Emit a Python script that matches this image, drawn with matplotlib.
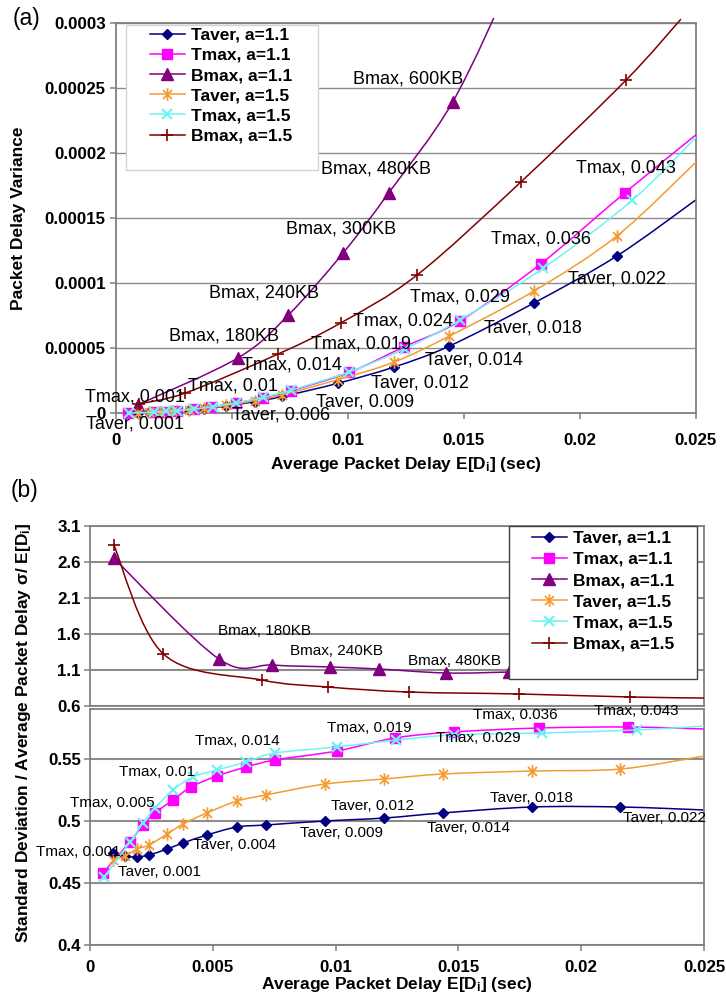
import numpy as np
import matplotlib
matplotlib.use("Agg")
import matplotlib.pyplot as plt
from matplotlib.path import Path
from matplotlib.patches import PathPatch, Rectangle
from matplotlib.lines import Line2D

plt.rcParams['font.family'] = ['Liberation Sans', 'DejaVu Sans']
plt.rcParams['mathtext.fontset'] = 'custom'
plt.rcParams['mathtext.rm'] = 'Liberation Sans:bold'
plt.rcParams['mathtext.it'] = 'Liberation Sans:bold'
plt.rcParams['mathtext.bf'] = 'Liberation Sans:bold'

# ---------------- data ----------------
series_names = ['Taver, a=1.1', 'Tmax, a=1.1', 'Bmax, a=1.1',
                'Taver, a=1.5', 'Tmax, a=1.5', 'Bmax, a=1.5']

# average packet delay (x) for each configuration
taver_x = [0.00094, 0.00143, 0.00191, 0.0024, 0.00314, 0.00379, 0.00476,
           0.00599, 0.00717, 0.00957, 0.01199, 0.01437, 0.01801, 0.02159]
tmax11_x = [0.00053, 0.00162, 0.00216, 0.00265, 0.00338, 0.00411, 0.00517,
            0.00635, 0.00753, 0.01006, 0.0124, 0.01482, 0.0183, 0.02192]
tmax15_x = [0.00057, 0.00163, 0.00216, 0.00265, 0.00338, 0.00419, 0.00517,
            0.00635, 0.00753, 0.01006, 0.01246, 0.01482, 0.01842, 0.02226]
bmax11_x = [0.00096, 0.00525, 0.00743, 0.00979, 0.01175, 0.01451, 0.01706]
bmax15_x = [0.00097, 0.00299, 0.00699, 0.00968, 0.01298, 0.01745, 0.02199]

# panel (a): packet delay variance
taver11_var = [2.0e-7, 4.5e-7, 8.1e-7, 1.3e-6, 2.3e-6, 3.3e-6, 5.4e-6,
               8.8e-6, 1.27e-5, 2.29e-5, 3.54e-5, 5.15e-5, 8.46e-5, 1.208e-4]
tmax11_var = [6e-8, 6e-7, 1.15e-6, 1.8e-6, 3.05e-6, 4.7e-6, 7.7e-6,
              1.19e-5, 1.71e-5, 3.13e-5, 5.08e-5, 7.08e-5, 1.146e-4, 1.692e-4]
bmax11_var = [6.5e-6, 4.23e-5, 7.54e-5, 1.231e-4, 1.692e-4, 2.392e-4, 3.34e-4]
taver15_var = [1.9e-7, 4.6e-7, 8.3e-7, 1.3e-6, 2.4e-6, 3.6e-6, 5.8e-6,
               9.6e-6, 1.4e-5, 2.57e-5, 3.92e-5, 5.92e-5, 9.38e-5, 1.362e-4]
tmax15_var = [7e-8, 6.2e-7, 1.16e-6, 1.83e-6, 3.15e-6, 5.0e-6, 7.8e-6,
              1.21e-5, 1.75e-5, 3.17e-5, 4.96e-5, 7.15e-5, 1.115e-4, 1.638e-4]
bmax15_var = [7e-6, 1.54e-5, 4.54e-5, 6.92e-5, 1.062e-4, 1.777e-4, 2.562e-4]
# where the lines leave the plot frame in panel (a)
var_exit = {'Taver, a=1.1': (0.025, 1.64e-4), 'Tmax, a=1.1': (0.025, 2.14e-4),
            'Bmax, a=1.1': None, 'Taver, a=1.5': (0.025, 1.93e-4),
            'Tmax, a=1.5': (0.025, 2.12e-4), 'Bmax, a=1.5': (0.02435, 3.03e-4)}

# panel (b): standard deviation / average packet delay
taver11_ratio = [0.4742, 0.4715, 0.471, 0.4726, 0.4774, 0.4823, 0.4887,
                 0.4952, 0.4968, 0.5, 0.5024, 0.5065, 0.5113, 0.5113]
tmax11_ratio = [0.4581, 0.4831, 0.4968, 0.5065, 0.5169, 0.5274, 0.5363,
                0.5435, 0.5492, 0.5565, 0.5669, 0.5718, 0.575, 0.5758]
bmax11_ratio = [2.656, 1.253, 1.169, 1.142, 1.114, 1.058, 1.072]
taver15_ratio = [0.4685, 0.4718, 0.4774, 0.4806, 0.4895, 0.4976, 0.5065,
                 0.5161, 0.521, 0.5298, 0.5339, 0.5379, 0.5403, 0.5419]
tmax15_ratio = [0.4548, 0.4831, 0.4984, 0.5105, 0.525, 0.5355, 0.5411,
                0.5476, 0.5548, 0.5597, 0.5653, 0.5694, 0.571, 0.5734]
bmax15_ratio = [2.836, 1.322, 0.961, 0.864, 0.794, 0.767, 0.725]
ratio_exit = {'Taver, a=1.1': (0.025, 0.5089), 'Tmax, a=1.1': (0.025, 0.5742),
              'Bmax, a=1.1': None, 'Taver, a=1.5': (0.025, 0.5524),
              'Tmax, a=1.5': (0.025, 0.5766), 'Bmax, a=1.5': (0.025, 0.711)}

x_ticks = [0, 0.005, 0.01, 0.015, 0.02, 0.025]
x_ticklabels = ['0', '0.005', '0.01', '0.015', '0.02', '0.025']
a_yticks = [0, 0.00005, 0.0001, 0.00015, 0.0002, 0.00025, 0.0003]
a_yticklabels = ['0', '0.00005', '0.0001', '0.00015', '0.0002', '0.00025', '0.0003']
bt_yticks = [0.6, 1.1, 1.6, 2.1, 2.6, 3.1]
bt_yticklabels = ['0.6', '1.1', '1.6', '2.1', '2.6', '3.1']
bb_yticks = [0.4, 0.45, 0.5, 0.55]
bb_yticklabels = ['0.4', '0.45', '0.5', '0.55']

# data labels: (text, x, y) in data units
a_labels = [
    ('Bmax, 600KB', 0.012586, 2.569e-4), ('Bmax, 480KB', 0.011207, 1.877e-4),
    ('Bmax, 300KB', 0.009698, 1.415e-4), ('Bmax, 240KB', 0.006379, 9.23e-5),
    ('Bmax, 180KB', 0.004655, 5.92e-5), ('Tmax, 0.001', 0.000819, 1.23e-5),
    ('Taver, 0.001', 0.000819, -8.5e-6), ('Tmax, 0.01', 0.005043, 2.08e-5),
    ('Tmax, 0.014', 0.007586, 3.69e-5), ('Taver, 0.006', 0.007112, -1.5e-6),
    ('Tmax, 0.019', 0.01056, 5.31e-5), ('Tmax, 0.024', 0.01237, 7.08e-5),
    ('Tmax, 0.029', 0.014828, 8.92e-5), ('Tmax, 0.036', 0.018319, 1.338e-4),
    ('Tmax, 0.043', 0.021983, 1.885e-4), ('Taver, 0.022', 0.021595, 1.031e-4),
    ('Taver, 0.018', 0.017974, 6.54e-5), ('Taver, 0.014', 0.015431, 4.08e-5),
    ('Taver, 0.012', 0.013103, 2.31e-5), ('Taver, 0.009', 0.010733, 8.5e-6),
]
bt_labels = [('Bmax, 180KB', 0.007085, 1.642), ('Bmax, 240KB', 0.01002, 1.364),
             ('Bmax, 480KB', 0.01486, 1.225)]
bb_labels = [
    ('Tmax, 0.001', -0.000489, 0.475), ('Taver, 0.001', 0.00285, 0.4589),
    ('Taver, 0.004', 0.0059, 0.4806), ('Tmax, 0.005', 0.000916, 0.5145),
    ('Tmax, 0.01', 0.00272, 0.5395), ('Tmax, 0.014', 0.00601, 0.5645),
    ('Tmax, 0.019', 0.01138, 0.575), ('Tmax, 0.029', 0.0158, 0.5669),
    ('Tmax, 0.036', 0.01733, 0.5855), ('Tmax, 0.043', 0.02225, 0.5887),
    ('Taver, 0.009', 0.01024, 0.4903), ('Taver, 0.012', 0.01152, 0.5121),
    ('Taver, 0.014', 0.01543, 0.4944), ('Taver, 0.018', 0.01796, 0.5185),
    ('Taver, 0.022', 0.02339, 0.5024),
]

# ---------------- styles ----------------
ast = Path([(0, -1), (0, 1), (-0.72, -0.72), (0.72, 0.72), (-0.72, 0.72), (0.72, -0.72)],
           [Path.MOVETO, Path.LINETO, Path.MOVETO, Path.LINETO, Path.MOVETO, Path.LINETO])
styles = {
    'Taver, a=1.1': dict(color='#000080', marker='D', markersize=5.2),
    'Tmax, a=1.1': dict(color='#FF00FF', marker='s', markersize=7),
    'Bmax, a=1.1': dict(color='#800080', marker='^', markersize=8),
    'Taver, a=1.5': dict(color='#F39C33', marker=ast, markersize=9,
                         markerfacecolor='none', markeredgewidth=1.3),
    'Tmax, a=1.5': dict(color='#6FF3F3', marker='x', markersize=7, markeredgewidth=1.6),
    'Bmax, a=1.5': dict(color='#800000', marker='+', markersize=9, markeredgewidth=1.2),
}

x_of = {'Taver, a=1.1': taver_x, 'Tmax, a=1.1': tmax11_x, 'Bmax, a=1.1': bmax11_x,
        'Taver, a=1.5': taver_x, 'Tmax, a=1.5': tmax15_x, 'Bmax, a=1.5': bmax15_x}
var_of = {'Taver, a=1.1': taver11_var, 'Tmax, a=1.1': tmax11_var, 'Bmax, a=1.1': bmax11_var,
          'Taver, a=1.5': taver15_var, 'Tmax, a=1.5': tmax15_var, 'Bmax, a=1.5': bmax15_var}
ratio_of = {'Taver, a=1.1': taver11_ratio, 'Tmax, a=1.1': tmax11_ratio,
            'Bmax, a=1.1': bmax11_ratio, 'Taver, a=1.5': taver15_ratio,
            'Tmax, a=1.5': tmax15_ratio, 'Bmax, a=1.5': bmax15_ratio}


def smooth_path(xs, ys):
    pts = np.column_stack([xs, ys]).astype(float)
    n = len(pts)
    verts = [pts[0]]
    codes = [Path.MOVETO]
    for i in range(n - 1):
        p0 = pts[i - 1] if i > 0 else pts[i]
        p1 = pts[i]
        p2 = pts[i + 1]
        p3 = pts[i + 2] if i + 2 < n else pts[i + 1]
        verts += [p1 + (p2 - p0) / 6.0, p2 - (p3 - p1) / 6.0, p2]
        codes += [Path.CURVE4] * 3
    return Path(verts, codes)


def draw_series(ax, name, x, y, exit_pt, line_clip, mark_clip, z):
    st = styles[name]
    xs = list(x)
    ys = list(y)
    if exit_pt is not None:
        xs.append(exit_pt[0])
        ys.append(exit_pt[1])
    patch = PathPatch(smooth_path(xs, ys), fill=False, edgecolor=st['color'],
                      lw=1.1, transform=ax.transData, zorder=z)
    ax.add_patch(patch)
    patch.set_clip_path(line_clip)
    mk, = ax.plot(x, y, linestyle='none', zorder=z + 0.5, **st)
    mk.set_clip_path(mark_clip)


def style_axes(ax, grid_lw, grid_color):
    ax.set_axisbelow(True)
    ax.grid(True, axis='y', color=grid_color, lw=grid_lw)
    ax.grid(False, axis='x')
    for s in ax.spines.values():
        s.set_color('#808080')
        s.set_linewidth(1.3)
    ax.tick_params(axis='both', direction='out', color='#808080', width=1.1,
                   length=4.5, labelsize=12.2)
    for lab in ax.get_xticklabels() + ax.get_yticklabels():
        lab.set_fontweight('bold')


W, H = 726, 999
fig = plt.figure(figsize=(W / 100, H / 100), dpi=100)


def fx(px):
    return px / W


def fy(py):
    return 1 - py / H


# ---------------- panel (a) ----------------
ax_a = fig.add_axes([fx(116), fy(413), (696 - 116) / W, (413 - 23) / H])
clip_a = Rectangle((-0.01, -0.05), 1.015, 1.063, transform=ax_a.transAxes)
mclip_a = Rectangle((-0.03, -0.05), 1.06, 1.06, transform=ax_a.transAxes)
for k, name in enumerate(series_names):
    draw_series(ax_a, name, x_of[name], var_of[name], var_exit[name], clip_a, mclip_a, 2 + k)
ax_a.set_xlim(0, 0.025)
ax_a.set_ylim(0, 0.0003)
ax_a.set_xticks(x_ticks)
ax_a.set_xticklabels(x_ticklabels)
ax_a.set_yticks(a_yticks)
ax_a.set_yticklabels(a_yticklabels)
style_axes(ax_a, 1.0, '#8c8c8c')
ax_a.tick_params(axis='x', pad=10)
ax_a.tick_params(axis='y', pad=3)
for t, x, y in a_labels:
    ax_a.text(x, y, t, fontsize=13, ha='center', va='center', zorder=10)

# ---------------- panel (b) ----------------
ax_bt = fig.add_axes([fx(90), fy(706), (704 - 90) / W, (706 - 526) / H])
ax_bb = fig.add_axes([fx(90), fy(945), (704 - 90) / W, (945 - 709) / H])
clip_bt = Rectangle((-0.01, 0), 1.01, 1.0, transform=ax_bt.transAxes)
clip_bb = Rectangle((-0.01, 0), 1.01, 1.0, transform=ax_bb.transAxes)
mclip_bt = Rectangle((-0.03, 0.01), 1.06, 1.04, transform=ax_bt.transAxes)
mclip_bb = Rectangle((-0.03, -0.03), 1.06, 1.03, transform=ax_bb.transAxes)
for k, name in enumerate(series_names):
    yb = ratio_of[name]
    xb = x_of[name]
    # the upper part of the broken axis only carries the points above its floor
    keep = [i for i, v in enumerate(yb) if v >= 0.6]
    if keep:
        draw_series(ax_bt, name, [xb[i] for i in keep], [yb[i] for i in keep],
                    ratio_exit[name], clip_bt, mclip_bt, 2 + k)
    draw_series(ax_bb, name, xb, yb, ratio_exit[name], clip_bb, mclip_bb, 2 + k)
for ax in (ax_bt, ax_bb):
    ax.set_xlim(0, 0.025)
ax_bt.set_ylim(0.6, 3.1)
ax_bb.set_ylim(0.4, 0.4 + 236 / 1240)
ax_bt.set_yticks(bt_yticks)
ax_bt.set_yticklabels(bt_yticklabels)
ax_bb.set_yticks(bb_yticks)
ax_bb.set_yticklabels(bb_yticklabels)
ax_bt.set_xticks([])
ax_bb.set_xticks(x_ticks)
ax_bb.set_xticklabels(x_ticklabels)
style_axes(ax_bt, 1.5, '#8c8c8c')
style_axes(ax_bb, 1.5, '#8c8c8c')
ax_bt.tick_params(axis='y', pad=2)
ax_bb.tick_params(axis='y', pad=2)
ax_bb.tick_params(axis='x', pad=6)
for t, x, y in bt_labels:
    ax_bt.text(x, y, t, fontsize=11, ha='center', va='center', zorder=10)
for t, x, y in bb_labels:
    ax_bb.text(x, y, t, fontsize=11, ha='center', va='center', zorder=10)

# ---------------- legends ----------------
handles = [Line2D([0], [0], lw=1.1, **styles[n]) for n in series_names]


def add_legend(left, top, right, bottom, edge, hx, ty, spacing):
    fig.patches.append(Rectangle((fx(left), fy(bottom)), (right - left) / W,
                                 (bottom - top) / H, transform=fig.transFigure,
                                 facecolor='white', edgecolor=edge, lw=1.0, zorder=3))
    leg = fig.legend(handles, series_names, loc='upper left',
                     bbox_to_anchor=(fx(hx), fy(ty)), frameon=False, borderpad=0,
                     borderaxespad=0, handlelength=2.0, handletextpad=0.35,
                     labelspacing=spacing, numpoints=1,
                     prop={'size': 12.5, 'weight': 'bold'})
    leg.set_zorder(4)


add_legend(126, 25, 318, 170, '#d4d4d4', 150, 27.5, 0.29)
add_legend(509, 526, 697, 679, '#404040', 532, 530.5, 0.35)

# ---------------- axis titles ----------------
fig.text(fx(406), fy(465), 'Average Packet Delay E[D$_{\\mathrm{i}}$] (sec)',
         fontsize=12.5, fontweight='bold', ha='center', va='center')
fig.text(fx(397), fy(985), 'Average Packet Delay E[D$_{\\mathrm{i}}$] (sec)',
         fontsize=12.5, fontweight='bold', ha='center', va='center')
fig.text(fx(19), fy(218), 'Packet Delay Variance', fontsize=12.5, fontweight='bold',
         rotation=90, ha='center', va='center')
fig.text(fx(24), fy(733),
         'Standard Deviation / Average Packet Delay \u03c3/ E[D$_{\\mathrm{i}}$]',
         fontsize=12.5, fontweight='bold', rotation=90, ha='center', va='center')
fig.text(fx(26), fy(19), '(a)', fontsize=16.5, ha='center', va='center')
fig.text(fx(25), fy(490), '(b)', fontsize=16.5, ha='center', va='center')

fig.savefig('out.png', dpi=100, facecolor='white')
